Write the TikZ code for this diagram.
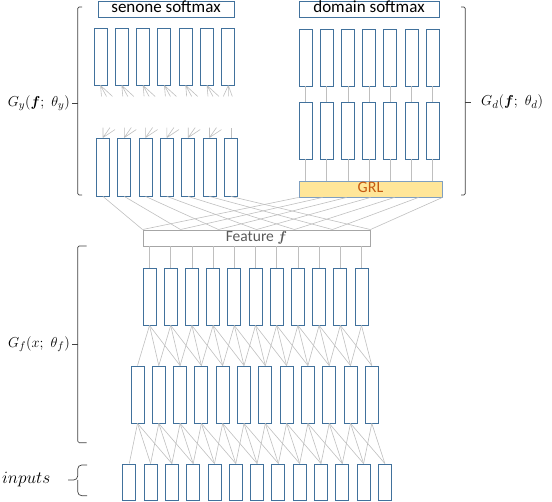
\documentclass[tikz,border=0pt]{standalone}
\usepackage{amsmath}
\usepackage{fontspec}
\newfontfamily\calib{Carlito}
\usetikzlibrary{calc}
\definecolor{unitblue}{RGB}{65,113,156}
\definecolor{linkgray}{RGB}{191,191,191}
\definecolor{featgray}{RGB}{166,166,166}
\definecolor{feattext}{RGB}{89,89,89}
\definecolor{grlfill}{RGB}{255,230,153}
\definecolor{grlborder}{RGB}{127,159,192}
\definecolor{grltext}{RGB}{197,90,17}
\definecolor{bracegray}{RGB}{64,64,64}
\tikzset{
	unit/.style={draw=unitblue, line width=0.9pt, fill=white, minimum width=13pt, minimum height=57pt, inner sep=0pt},
	link/.style={draw=linkgray, line width=0.6pt},
	barbox/.style={line width=0.9pt, minimum height=16pt, inner sep=0pt, text height=11pt, text depth=3pt},
	softmaxbox/.style={barbox, draw=unitblue, font=\calib\fontsize{17}{19}\selectfont},
	brace/.style={draw=bracegray, line width=0.7pt, rounded corners=1.5pt},
	mathlabel/.style={inner sep=0pt, font=\fontsize{15.5}{18}\selectfont},
}

\begin{document}
\begin{tikzpicture}[x=1pt,y=-1pt]
			\useasboundingbox (0,0) rectangle (552,502);

			% softmax layers on top
			\node[softmaxbox, minimum width=136pt] (ssoft) at (166,9) {senone softmax};
			\node[softmaxbox, minimum width=140pt] (dsoft) at (369,9) {domain softmax};

			% senone branch
			\foreach \i in {0,...,6} {
				\node[unit] (stop\i) at ({100.5+21.3*\i},56.5) {};
				\node[unit, minimum height=58pt] (slow\i) at ({103+21.3*\i},167) {};
			}
			% domain branch
			\foreach \i in {0,...,6} {
				\node[unit] (dtop\i) at ({305.5+21.2*\i},57.5) {};
				\node[unit] (dlow\i) at ({305.5+21.2*\i},130.5) {};
			}
			\node[barbox, draw=grlborder, fill=grlfill, minimum width=143pt,
				text=grltext, font=\calib\fontsize{16}{18}\selectfont] (grl) at (370.5,189) {GRL};

			% shared feature
			\node[barbox, draw=featgray, minimum width=227pt,
				text=feattext, font=\calib\fontsize{15.5}{18}\selectfont] (feat) at (256.5,238) {Feature $\boldsymbol{f}$};

			% feature extractor layers and inputs
			\foreach \k in {0,...,10}
				\node[unit] (fea\k) at ({149.5+21.2*\k},296.5) {};
			\foreach \m in {0,...,11}
				\node[unit] (mid\m) at ({137.5+21.3*\m},394.5) {};
			\foreach \n in {0,...,12}
				\node[unit, minimum height=36pt] (inp\n) at ({129.3+21.3*\n},482) {};

			% domain links
			\foreach \i in {0,...,6} {
				\draw[link] (dtop\i.south) -- (dlow\i.north);
				\draw[link] (dlow\i.south) -- (dlow\i.south |- grl.north);
			}

			% senone links (only short pieces shown)
			\foreach \i in {0,...,5}
				\draw[link] (stop\i.south) -- ++(1,11) (stop\i.south) -- ++(6,11) (stop\i.south) -- ++(12,11);
			\draw[link] (stop6.south) -- ++(-5,11) (stop6.south) -- ++(0,11) (stop6.south) -- ++(4,11);
			\foreach \i in {0,...,5}
				\draw[link] (slow\i.north) -- ++(0,-10) (slow\i.north) -- ++(7,-10) (slow\i.north) -- ++(12,-8);
			\draw[link] (slow6.north) -- ++(0,-10);

			% both branches into the feature box
			\foreach \i in {0,...,6} {
				\coordinate (fp\i) at ($(feat.north west)!\i/6!(feat.north east)$);
				\coordinate (gp\i) at ($(grl.south west)!\i/6!(grl.south east)$);
				\draw[link] (slow\i.south) -- (fp\i);
				\draw[link] (gp\i) -- (fp\i);
			}

			% feature box to first layer
			\foreach \k in {0,...,10}
				\draw[link] (fea\k.north |- feat.south) -- (fea\k.north);
			% layer to layer
			\foreach \k in {0,...,10}
				\foreach \d in {0,1,2} {
					\pgfmathtruncatemacro\j{\k+\d}
					\ifnum\j<12 \draw[link] (fea\k.south) -- (mid\j.north); \fi
				}
			\foreach \m in {0,...,11}
				\foreach \d in {0,1,2} {
					\pgfmathtruncatemacro\j{\m+\d}
					\ifnum\j<13 \draw[link] (mid\m.south) -- (inp\j.north); \fi
				}

			% braces and labels
			\draw[brace] (82,7) -| (77.7,195) -- (82,195);
			\draw[brace] (77.7,103) -- (72,103);
			\node[mathlabel, anchor=east] (gy) at (70,103) {$G_y(\boldsymbol{f};\ \theta_y)$};

			\draw[brace] (461,7) -| (465.3,195) -- (461,195);
			\draw[brace] (465.3,102) -- (471,102);
			\node[mathlabel, anchor=west] (gd) at (481,102) {$G_d(\boldsymbol{f};\ \theta_d)$};

			\draw[brace] (86.7,246) -| (77.7,442.7) -- (86.7,442.7);
			\draw[brace] (77.7,344.3) -- (72,344.3);
			\node[mathlabel, anchor=east] (gf) at (70,344.3) {$G_f(x;\ \theta_f)$};

			\draw[brace, rounded corners=4pt] (87,465) -| (77.7,480) -- (68,480);
			\draw[brace, rounded corners=4pt] (87,495.7) -| (77.7,480);
			\node[mathlabel, anchor=west, font=\fontsize{17}{19}\selectfont] (inl) at (2,480) {$inputs$};

			\end{tikzpicture}
\end{document}
